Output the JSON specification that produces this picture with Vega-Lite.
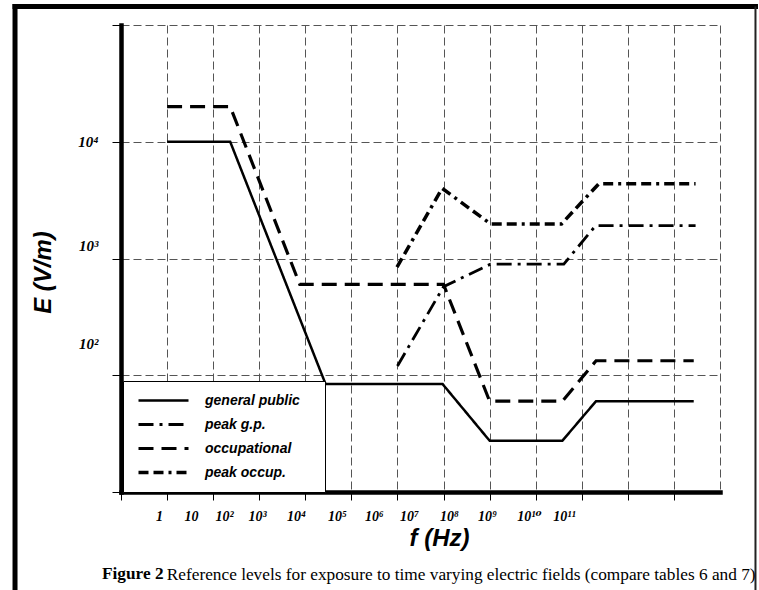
{
  "$schema": "https://vega.github.io/schema/vega-lite/v6.json",
  "width": 599,
  "height": 467,
  "padding": {"left": 11, "top": 2, "right": 0, "bottom": 0},
  "background": "white",
  "config": {"view": {"stroke": null}, "axis": {"labelOverlap": false}},
  "title": {
    "text": "Figure 2",
    "subtitle": "\u200d\u00a0\u00a0\u00a0\u00a0\u00a0\u00a0\u00a0\u00a0\u00a0\u00a0\u00a0\u00a0\u00a0\u00a0\u00a0Reference levels for exposure to time varying electric fields (compare tables 6 and 7)",
    "orient": "bottom",
    "anchor": "start",
    "frame": "group",
    "offset": 0,
    "dx": -19,
    "dy": -38,
    "font": "Liberation Serif",
    "fontSize": 17.3,
    "fontWeight": "bold",
    "color": "black",
    "subtitleFont": "Liberation Serif",
    "subtitleFontSize": 17.3,
    "subtitleFontWeight": "normal",
    "subtitleColor": "black",
    "subtitlePadding": -17
  },
  "layer": [
    {
      "data": {
        "values": [
          {"series": "general public", "pos": 1.0, "E": 10000},
          {"series": "general public", "pos": 2.37, "E": 10000},
          {"series": "general public", "pos": 4.44, "E": 84},
          {"series": "general public", "pos": 6.98, "E": 84},
          {"series": "general public", "pos": 8.0, "E": 27.5},
          {"series": "general public", "pos": 9.58, "E": 27.5},
          {"series": "general public", "pos": 10.31, "E": 60},
          {"series": "general public", "pos": 12.43, "E": 60},
          {"series": "peak g.p.", "pos": 6.0, "E": 120},
          {"series": "peak g.p.", "pos": 7.0, "E": 574},
          {"series": "peak g.p.", "pos": 8.02, "E": 895},
          {"series": "peak g.p.", "pos": 9.61, "E": 895},
          {"series": "peak g.p.", "pos": 10.3, "E": 1910},
          {"series": "peak g.p.", "pos": 12.47, "E": 1910},
          {"series": "occupational", "pos": 1.0, "E": 20000},
          {"series": "occupational", "pos": 2.37, "E": 20000},
          {"series": "occupational", "pos": 3.88, "E": 600},
          {"series": "occupational", "pos": 7.0, "E": 600},
          {"series": "occupational", "pos": 8.0, "E": 60},
          {"series": "occupational", "pos": 9.58, "E": 60},
          {"series": "occupational", "pos": 10.31, "E": 133},
          {"series": "occupational", "pos": 12.43, "E": 133},
          {"series": "peak occup.", "pos": 5.99, "E": 845},
          {"series": "peak occup.", "pos": 6.97, "E": 3990},
          {"series": "peak occup.", "pos": 8.02, "E": 1977},
          {"series": "peak occup.", "pos": 9.56, "E": 1977},
          {"series": "peak occup.", "pos": 10.37, "E": 4370},
          {"series": "peak occup.", "pos": 12.47, "E": 4370}
        ]
      },
      "mark": {"type": "line", "color": "black", "strokeCap": "butt"},
      "encoding": {
        "x": {
          "field": "pos",
          "type": "quantitative",
          "scale": {"domain": [0, 13], "nice": false},
          "axis": {
            "values": [0, 0.825, 1, 1.519, 2, 2.235, 2.951, 3, 3.798, 4, 4.688, 5, 5.49, 6, 6.25, 7, 7.118, 7.943, 8, 8.854, 9, 9.614, 10, 11, 12, 13],
            "tickCount": 100,
            "labelExpr": "datum.value == 0.825 ? '1' : datum.value == 1.519 ? '10' : datum.value == 2.235 ? '10²' : datum.value == 2.951 ? '10³' : datum.value == 3.798 ? '10⁴' : datum.value == 4.688 ? '10⁵' : datum.value == 5.49 ? '10⁶' : datum.value == 6.25 ? '10⁷' : datum.value == 7.118 ? '10⁸' : datum.value == 7.943 ? '10⁹' : datum.value == 8.854 ? '10¹⁰' : datum.value == 9.614 ? '10¹¹' : ''",
            "title": "f (Hz)",
            "grid": true,
            "gridColor": "#555555",
            "gridDash": [8, 4],
            "gridWidth": 1,
            "gridOpacity": {"condition": {"test": "datum.value % 1 == 0", "value": 1}, "value": 0},
            "tickOpacity": {"condition": {"test": "datum.value % 1 == 0 && datum.value < 13", "value": 1}, "value": 0},
            "domainColor": "black",
            "domainWidth": 4.5,
            "domainCap": "square",
            "tickColor": "black",
            "tickSize": 8,
            "tickWidth": 1,
            "labelPadding": 9,
            "labelFont": "Liberation Serif, DejaVu Serif",
            "labelFontSize": 14,
            "labelFontStyle": "italic",
            "labelFontWeight": "bold",
            "labelColor": "black",
            "labelOverlap": false,
            "labelFlush": false,
            "titleFont": "Liberation Sans",
            "titleFontSize": 24,
            "titleFontStyle": "italic",
            "titleFontWeight": "bold",
            "titleColor": "black",
            "titlePadding": 3,
            "titleX": 318
          }
        },
        "y": {
          "field": "E",
          "type": "quantitative",
          "scale": {"type": "log", "domain": [10, 100000], "nice": false},
          "axis": {
            "values": [10, 100, 188, 1000, 1300, 10000, 100000],
            "tickCount": 100,
            "labelExpr": "datum.value == 10000 ? '10⁴' : datum.value == 1300 ? '10³' : datum.value == 188 ? '10²' : ''",
            "title": "E (V/m)",
            "grid": true,
            "gridColor": "#555555",
            "gridDash": [8, 4],
            "gridWidth": 1,
            "gridOpacity": {"condition": {"test": "datum.value == 10 || datum.value == 100 || datum.value == 1000 || datum.value == 10000 || datum.value == 100000", "value": 1}, "value": 0},
            "tickOpacity": {"condition": {"test": "datum.value == 10 || datum.value == 100 || datum.value == 1000 || datum.value == 10000 || datum.value == 100000", "value": 1}, "value": 0},
            "domainColor": "black",
            "domainWidth": 4.5,
            "domainCap": "square",
            "tickColor": "black",
            "tickSize": 9,
            "tickWidth": 1,
            "labelPadding": 14,
            "labelFont": "Liberation Serif, DejaVu Serif",
            "labelFontSize": 15,
            "labelFontStyle": "italic",
            "labelFontWeight": "bold",
            "labelColor": "black",
            "labelOverlap": false,
            "labelFlush": false,
            "labelBaseline": "middle",
            "titleFont": "Liberation Sans",
            "titleFontSize": 24,
            "titleFontStyle": "italic",
            "titleFontWeight": "bold",
            "titleColor": "black",
            "titlePadding": 22,
            "titleY": 247
          }
        },
        "strokeDash": {
          "field": "series",
          "type": "nominal",
          "scale": {
            "domain": ["general public", "peak g.p.", "occupational", "peak occup."],
            "range": [[1, 0], [15, 6, 3, 6], [15, 8], [10, 5, 10, 5, 3, 5]]
          },
          "legend": {
            "title": null,
            "orient": "none",
            "legendX": 2,
            "legendY": 356,
            "fillColor": "white",
            "strokeColor": "black",
            "padding": 12.5,
            "symbolType": "M-5,0H5",
            "symbolSize": 100,
            "symbolStrokeWidth": 3,
            "symbolStrokeColor": "black",
            "symbolOffset": 21,
            "labelOffset": 34.5,
            "rowPadding": 10,
            "labelExpr": "datum.label + '\u00a0\u00a0\u00a0\u200d'",
            "labelFont": "Liberation Sans",
            "labelFontSize": 14,
            "labelFontStyle": "italic",
            "labelFontWeight": "bold",
            "labelColor": "black",
            "labelLimit": 300
          }
        },
        "strokeWidth": {
          "field": "series",
          "type": "ordinal",
          "scale": {
            "domain": ["general public", "peak g.p.", "occupational", "peak occup."],
            "range": [2.5, 3.5, 4, 4]
          },
          "legend": null
        }
      }
    },
    {
      "data": {"values": [{}]},
      "mark": {"type": "rule", "color": "black", "strokeWidth": 5, "strokeCap": "square"},
      "encoding": {
        "x": {"datum": -2.3, "type": "quantitative", "scale": {"domain": [0, 13], "nice": false}},
        "y": {"datum": 144100, "type": "quantitative", "scale": {"type": "log", "domain": [10, 100000], "nice": false}},
        "y2": {"datum": 1.19}
      }
    },
    {
      "data": {"values": [{}]},
      "mark": {"type": "rule", "color": "black", "strokeWidth": 5, "strokeCap": "square"},
      "encoding": {
        "x": {"datum": -2.3, "type": "quantitative", "scale": {"domain": [0, 13], "nice": false}},
        "x2": {"datum": 13.77},
        "y": {"datum": 144100, "type": "quantitative", "scale": {"type": "log", "domain": [10, 100000], "nice": false}}
      }
    },
    {
      "data": {"values": [{}]},
      "mark": {"type": "rule", "color": "#222222", "strokeWidth": 2},
      "encoding": {
        "x": {"datum": 13.77, "type": "quantitative", "scale": {"domain": [0, 13], "nice": false}},
        "y": {"datum": 144100, "type": "quantitative", "scale": {"type": "log", "domain": [10, 100000], "nice": false}},
        "y2": {"datum": 1.19}
      }
    }
  ]
}
